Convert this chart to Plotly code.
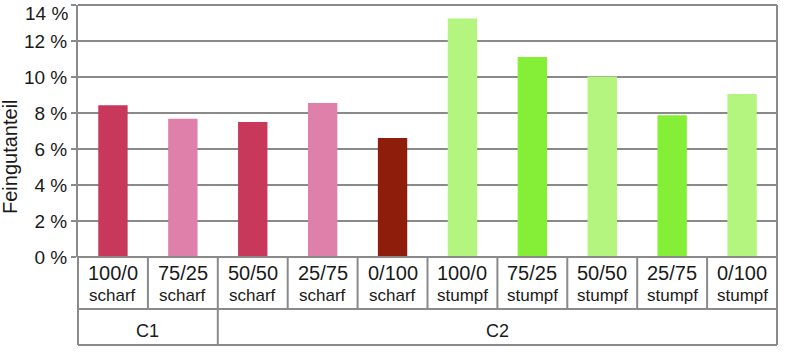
import plotly.graph_objects as go

# ---- data ----
ratios = ["100/0", "75/25", "50/50", "25/75", "0/100",
          "100/0", "75/25", "50/50", "25/75", "0/100"]
edges = ["scharf"] * 5 + ["stumpf"] * 5
groups = ["C1", "C1", "C2", "C2", "C2", "C2", "C2", "C2", "C2", "C2"]
values = [8.43, 7.68, 7.50, 8.56, 6.61, 13.25, 11.11, 10.03, 7.88, 9.06]
colors = ["#C8385A", "#DE80AA", "#C8385A", "#DE80AA", "#8F1D0B",
          "#B3F57F", "#85EE36", "#B3F57F", "#85EE36", "#B3F57F"]
y_ticks = [0, 2, 4, 6, 8, 10, 12, 14]

FONT = "Liberation Sans"
LINE = "#8a8a8a"
TXT = "#1a1a1a"
n = len(values)
xs = list(range(n))
y_top = y_ticks[-1]

fig = go.Figure(go.Bar(x=xs, y=values, marker=dict(color=colors, line=dict(width=0)),
                       width=0.42, hoverinfo="skip"))

# table geometry (paper coords)
row1 = -52 / 252
row2 = -88 / 252
shapes = []
def line(x0, y0, x1, y1):
    shapes.append(dict(type="line", xref="paper", yref="paper", x0=x0, y0=y0, x1=x1, y1=y1,
                       line=dict(color=LINE, width=2), layer="above"))

# top gridline / frame
line(0, 1, 1, 1)
# horizontal lines of table
line(0, 0, 1, 0)
line(0, row1, 1, row1)
line(0, row2, 1, row2)
# left and right borders
line(0, 0, 0, row2)
line(1, 1, 1, row2)
# category separators
for k in range(1, n):
    line(k / n, 0, k / n, row1)
# group separators
for k in range(1, n):
    if groups[k] != groups[k - 1]:
        line(k / n, row1, k / n, row2)

annotations = []
for i in range(n):
    annotations.append(dict(x=i, y=-16 / 252, xref="x", yref="paper", text=ratios[i],
                            showarrow=False, font=dict(family=FONT, size=20, color=TXT),
                            yanchor="middle", xanchor="center"))
    annotations.append(dict(x=i, y=-38 / 252, xref="x", yref="paper", text=edges[i],
                            showarrow=False, font=dict(family=FONT, size=17, color=TXT),
                            yanchor="middle", xanchor="center"))
# group labels
start = 0
for k in range(1, n + 1):
    if k == n or groups[k] != groups[start]:
        annotations.append(dict(x=(start + k - 1) / 2, y=-73.5 / 252, xref="x", yref="paper",
                                text=groups[start], showarrow=False,
                                font=dict(family=FONT, size=18, color=TXT),
                                yanchor="middle", xanchor="center"))
        start = k

# top tick label, nudged down to stay inside the page
annotations.append(dict(x=-8 / 699, y=y_top, xref="paper", yref="y", text=f"{y_top} %",
                        showarrow=False, xanchor="right", yanchor="top", yshift=4,
                        font=dict(family=FONT, size=19, color=TXT)))

# y-axis title
annotations.append(dict(x=-68 / 699, y=100 / 252, xref="paper", yref="paper", text="Feingutanteil",
                        textangle=-90, showarrow=False, xanchor="center", yanchor="middle",
                        font=dict(family=FONT, size=20, color=TXT)))

fig.update_layout(
    width=800, height=364,
    margin=dict(l=78, r=23, t=5, b=107),
    paper_bgcolor="white", plot_bgcolor="white",
    showlegend=False,
    shapes=shapes, annotations=annotations,
    font=dict(family=FONT, color=TXT),
    xaxis=dict(range=[-0.5, n - 0.5], showticklabels=False, showgrid=False,
               zeroline=False, showline=False, ticks="", automargin=False),
    yaxis=dict(range=[0, 14.001], tickvals=y_ticks,
               ticktext=[f"{v} %" if v != y_top else "" for v in y_ticks],
               showgrid=True, gridcolor=LINE, gridwidth=2,
               showline=True, linecolor=LINE, linewidth=2,
               ticks="outside", ticklen=5, tickcolor=LINE, tickwidth=2,
               zeroline=False, tickfont=dict(family=FONT, size=19, color=TXT),
               automargin=False),
)

fig.write_html("out.html", config={"displayModeBar": False},
               post_script="document.body.style.margin='0px';")
